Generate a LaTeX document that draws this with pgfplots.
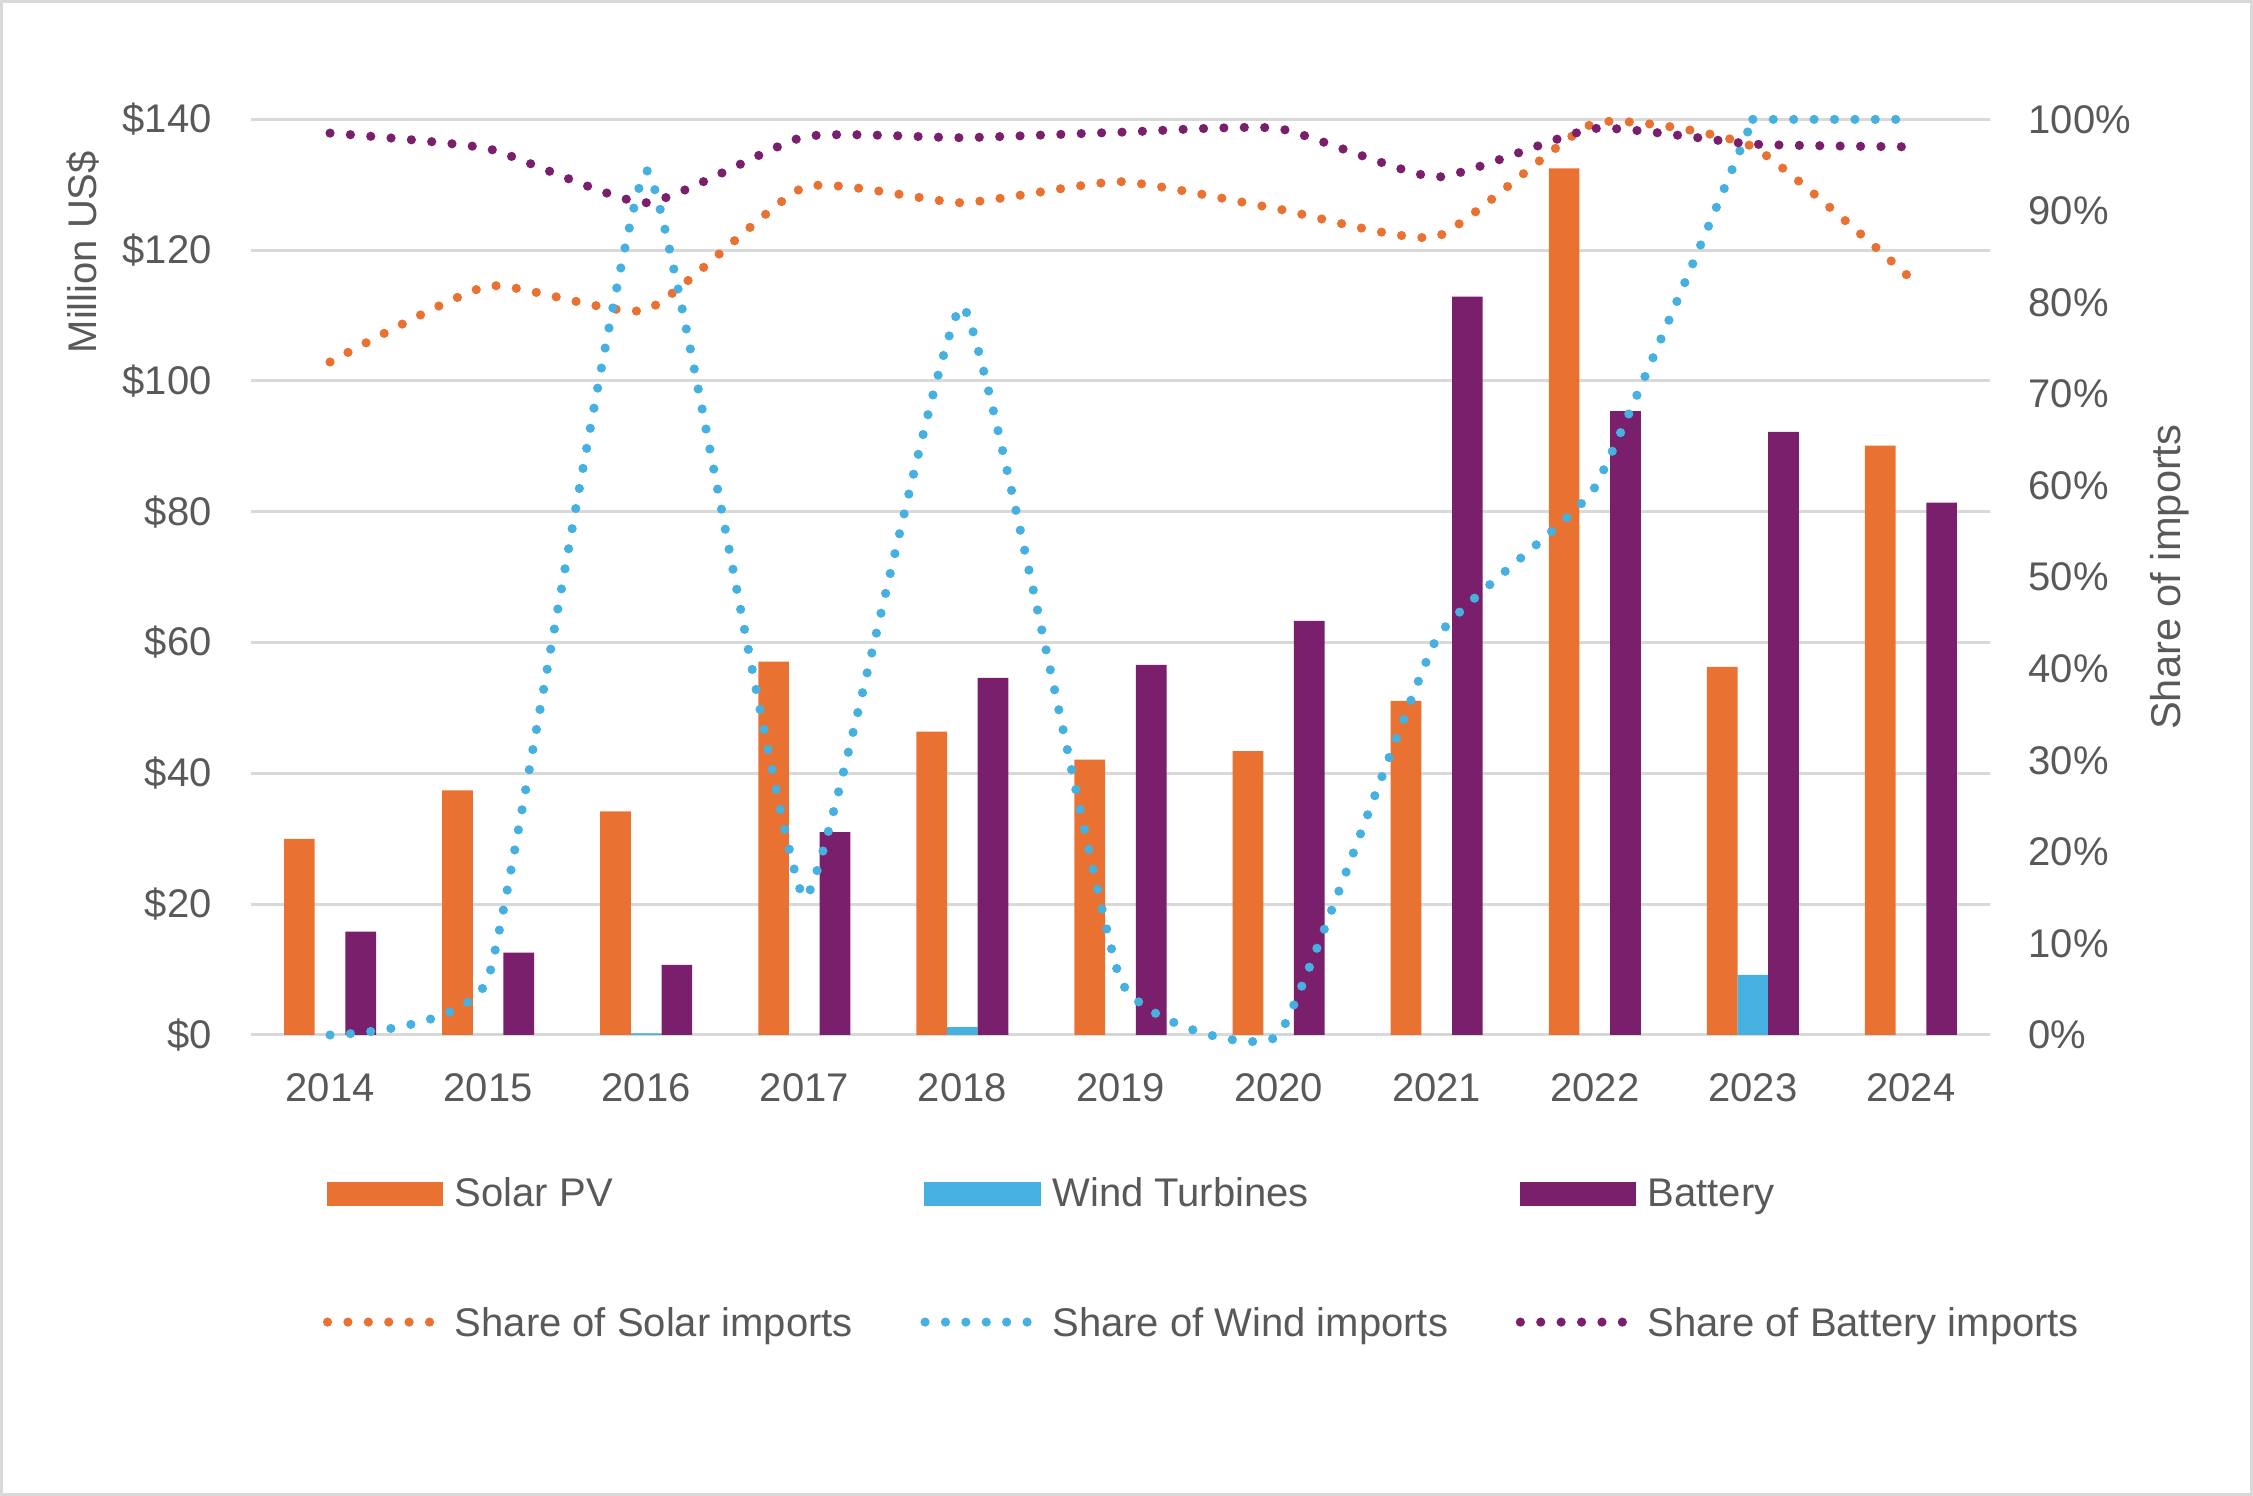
\documentclass[border=0pt]{standalone}
\usepackage{fontspec}
\setmainfont{Liberation Sans}
\usepackage{pgfplots}
\pgfplotsset{compat=1.18}
\definecolor{solar}{HTML}{E97132}
\definecolor{wind}{HTML}{46B1E1}
\definecolor{batt}{HTML}{7A1F6B}
\definecolor{txt}{HTML}{595959}
\definecolor{gridc}{HTML}{D9D9D9}
\pgfplotsset{
  dotline/.style={line width=2.3pt, dash pattern=on 0pt off 5.1pt, line cap=round, smooth, tension=0.3, no markers,
    legend image code/.code={\draw[##1] (0pt,0.7pt) -- (28.7pt,0.7pt);}},
}
\begin{document}
\begin{tikzpicture}[font=\fontsize{10}{12}\selectfont]
\useasboundingbox (0,0) rectangle (563.25pt,374pt);
\draw[gridc, line width=0.75pt] (0.375pt,0.375pt) rectangle (562.875pt,373.625pt);
\begin{axis}[
  at={(62.75pt,115.25pt)}, anchor=south west,
  width=434.75pt, height=228.9pt, scale only axis,
  xmin=-0.5, xmax=10.5, ymin=0, ymax=140,
  xtick={0,1,2,3,4,5,6,7,8,9,10},
  xticklabels={2014,2015,2016,2017,2018,2019,2020,2021,2022,2023,2024},
  ytick={0,20,40,60,80,100,120,140},
  yticklabels={\$0,\$20,\$40,\$60,\$80,\$100,\$120,\$140},
  ymajorgrids, grid style={color=gridc, line width=0.75pt},
  axis line style={draw=none}, major tick length=0pt,
  tick label style={text=txt, font=\fontsize{10}{12}\selectfont},
  xticklabel style={yshift=-6pt},
  yticklabel style={xshift=-6.3pt},
  ylabel={Million US\$},
  ylabel style={at={(axis description cs:-0.0965,0.855)}, anchor=center, text=txt, font=\fontsize{10}{12}\selectfont},
  bar width=0.194,
]
\addplot[ybar, fill=solar, draw=none, bar shift=-0.194] coordinates {(0,30.0) (1,37.4) (2,34.2) (3,57.1) (4,46.4) (5,42.1) (6,43.4) (7,51.1) (8,132.5) (9,56.3) (10,90.1)};
\addplot[ybar, fill=wind, draw=none, bar shift=0] coordinates {(0,0) (1,0) (2,0.25) (3,0) (4,1.2) (5,0) (6,0) (7,0) (8,0) (9,9.2) (10,0)};
\addplot[ybar, fill=batt, draw=none, bar shift=0.194] coordinates {(0,15.8) (1,12.6) (2,10.7) (3,31.0) (4,54.6) (5,56.6) (6,63.3) (7,112.9) (8,95.4) (9,92.2) (10,81.4)};
\end{axis}
\begin{axis}[
  at={(62.75pt,115.25pt)}, anchor=south west,
  width=434.75pt, height=228.9pt, scale only axis,
  xmin=-0.5, xmax=10.5, ymin=0, ymax=100,
  axis x line=none, axis y line*=right,
  axis line style={draw=none}, major tick length=0pt,
  ytick={0,10,20,30,40,50,60,70,80,90,100},
  yticklabels={0\%,10\%,20\%,30\%,40\%,50\%,60\%,70\%,80\%,90\%,100\%},
  tick label style={text=txt, font=\fontsize{10}{12}\selectfont},
  yticklabel style={xshift=6.1pt},
  ylabel={Share of imports},
  ylabel style={at={(axis description cs:1.1035,0.5)}, anchor=center, rotate=0, text=txt, font=\fontsize{10.4}{12}\selectfont},
  clip=false,
  legend columns=3,
  legend style={draw=none, fill=none, inner sep=0pt, at={(axis description cs:0.0409,-0.1466)}, anchor=north west,
    font=\fontsize{10}{12}\selectfont, text=txt,
    /tikz/every even column/.append style={column sep=14.9pt}, /tikz/row sep=19.6pt},
  legend cell align=left,
]
\addlegendimage{legend image code/.code={\fill[solar] (0pt,-2.4pt) rectangle (28.7pt,3.2pt);}}
\addlegendimage{legend image code/.code={\fill[wind] (0pt,-2.4pt) rectangle (28.7pt,3.2pt);}}
\addlegendimage{legend image code/.code={\fill[batt] (0pt,-2.4pt) rectangle (28.7pt,3.2pt);}}
\addplot[solar, dotline] coordinates {(0,73.5) (1,81.8) (2,79.2) (3,92.6) (4,90.9) (5,93.2) (6,90.2) (7,87.2) (8,99.6) (9,97.0) (10,82.6)};
\addplot[wind, dotline, tension=0.22] coordinates {(0,0) (1,6.2) (2,94.4) (3,15.0) (4,79.6) (5,6.0) (6,0) (7,43.3) (8,59.8) (9,100)};
\addplot[batt, dotline] coordinates {(0,98.5) (1,96.8) (2,90.9) (3,98.1) (4,98.0) (5,98.6) (6,99.0) (7,93.7) (8,99.0) (9,97.3) (10,97.0)};
\addplot[wind, dotline, forget plot] coordinates {(9,100) (10,100)};
\legend{Solar PV, Wind Turbines, Battery, Share of Solar imports, Share of Wind imports, Share of Battery imports}
\end{axis}
\end{tikzpicture}
\end{document}
